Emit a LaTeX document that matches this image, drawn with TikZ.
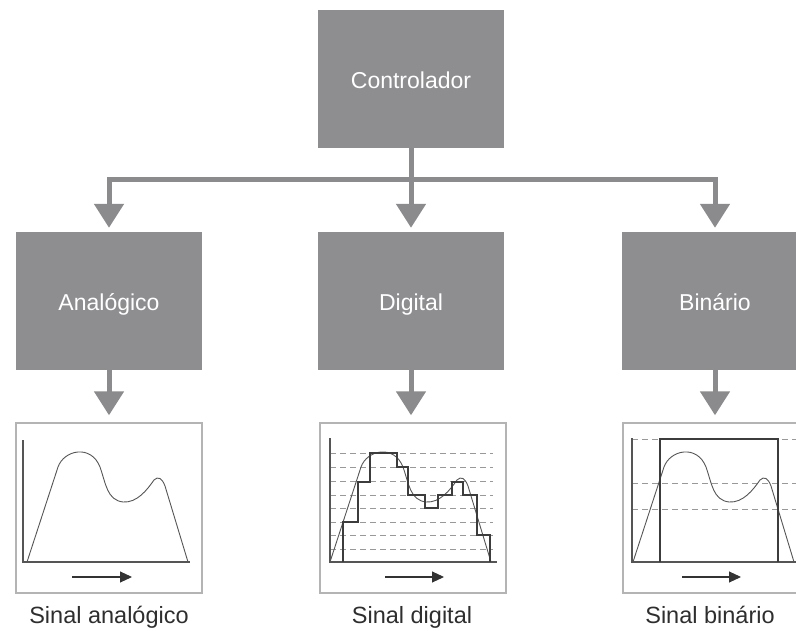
\documentclass[tikz,border=0pt]{standalone}
\usepackage{fontspec}
\setmainfont{Liberation Sans}
\usetikzlibrary{arrows.meta}

\definecolor{boxgray}{HTML}{8E8E91}
\definecolor{arrgray}{HTML}{8B8B8E}
\definecolor{framegray}{HTML}{B4B4B4}
\definecolor{inkgray}{HTML}{555555}
\definecolor{stepink}{HTML}{3C3C3C}
\definecolor{labelink}{HTML}{2E2E2E}

\tikzset{
  blockbox/.style={fill=boxgray, draw=none, minimum width=186pt, minimum height=138pt,
    text=white, font=\fontsize{23}{27}\selectfont, inner sep=0pt,
    text height=20pt, text depth=0pt},
  plotframe/.style={draw=framegray, line width=1.4pt, fill=white,
    minimum width=186pt, minimum height=170pt, inner sep=0pt},
  flow/.style={draw=arrgray, line width=5pt, line join=miter,
    -{Triangle[width=29pt,length=24pt]}},
  axisline/.style={draw=inkgray, line width=1.1pt},
  curve/.style={draw=inkgray, line width=0.9pt},
  levelline/.style={draw=gray!80, line width=1pt, dash pattern=on 6pt off 4pt},
  stairs/.style={draw=stepink, line width=2.6pt, line join=miter},
  timearrow/.style={draw=black!80, line width=1.1pt, -{Triangle[width=11pt,length=12pt]}},
  caption/.style={text=labelink, font=\fontsize{23.5}{28}\selectfont, anchor=base},
  wave/.pic={
    \draw[curve] (0,0) -- (31,-95)
      .. controls (37,-112) and (64,-118) .. (73,-95)
      .. controls (79,-78) and (80,-62) .. (96,-60)
      .. controls (110,-59) and (120,-72) .. (127,-82)
      .. controls (131,-86) and (135,-84) .. (138,-76)
      -- (161,0);
  }
}

\begin{document}
\begin{tikzpicture}[x=1pt,y=-1pt]
\useasboundingbox (0,0) rectangle (796,631);

% blocks
\node[blockbox] (ctrl) at (411,79) {Controlador};
\node[blockbox] (ana) at (109,301) {Analógico};
\node[blockbox] (dig) at (411,301) {Digital};
\node[blockbox] (bin) at (715,301) {Binário};

% signal frames
\node[plotframe] (anaplot) at (109,508) {};
\node[plotframe] (digplot) at (413,508) {};
\node[plotframe] (binplot) at (716,508) {};

% distribution bus
\coordinate (bus) at (411,180);
\draw[flow] (bus) -| ([yshift=4pt]ana.north);
\draw[flow] (bus) -| ([yshift=4pt]bin.north);
\draw[flow] (ctrl.south) -- ([yshift=4pt]dig.north);

% block outputs
\draw[flow] (ana.south) -- ([yshift=7pt]ana.south |- anaplot.north);
\draw[flow] (dig.south) -- ([yshift=7pt]dig.south |- digplot.north);
\draw[flow] (bin.south) -- ([yshift=7pt]bin.south |- binplot.north);

% analog signal
\draw[axisline] (23,440) -- (23,562) -- (190,562);
\pic at (27,562) {wave};
\draw[timearrow] (72,577) -- (132,577);

% digital signal
\foreach \yl in {453,467,481,495,508,522,535,549}
  \draw[levelline] (330,\yl) -- (493,\yl);
\draw[axisline] (330,438) -- (330,562) -- (497,562);
\pic at (330,562) {wave};
\draw[stairs] (343,562) -- (343,522) -- (358,522) -- (358,482) -- (370,482)
  -- (370,453) -- (397,453) -- (397,467) -- (408,467) -- (408,495)
  -- (425,495) -- (425,508) -- (438,508) -- (438,495) -- (452,495)
  -- (452,482) -- (463,482) -- (463,495) -- (477,495) -- (477,535)
  -- (490,535) -- (490,562);
\draw[timearrow] (385,577) -- (444,577);

% binary signal
\foreach \yl in {439,483,509}
  \draw[levelline] (632,\yl) -- (796,\yl);
\draw[axisline] (632,438) -- (632,562) -- (796,562);
\pic at (633,562) {wave};
\draw[stairs] (660,562) -- (660,439) -- (778,439) -- (778,562);
\draw[timearrow] (682,577) -- (741,577);

% captions
\node[caption] (capana) at (109,623) {Sinal analógico};
\node[caption] (capdig) at (412,623) {Sinal digital};
\node[caption] (capbin) at (710,623) {Sinal binário};
\end{tikzpicture}
\end{document}
